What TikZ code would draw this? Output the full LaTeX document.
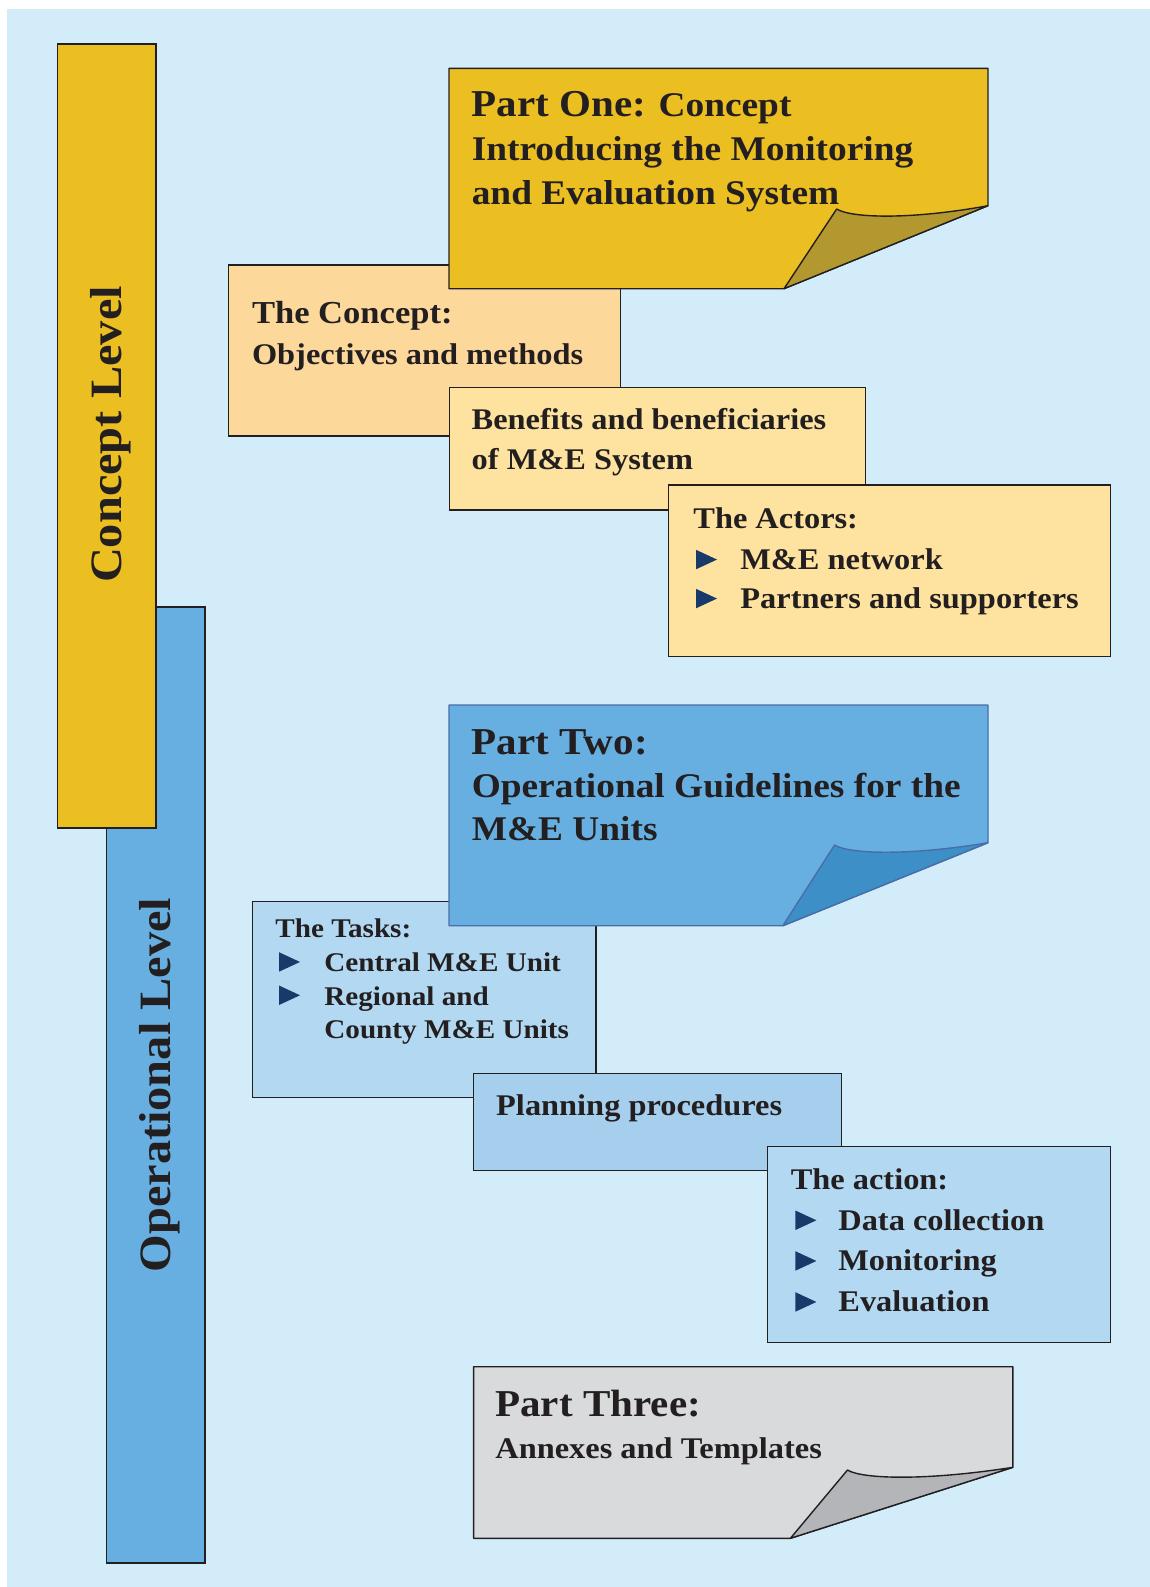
\documentclass[tikz,border=0pt]{standalone}
\usepackage{fontspec}
\setmainfont{Liberation Serif}[FakeStretch=1.08]
\definecolor{bg}{HTML}{D2EDF9}
\definecolor{ink}{HTML}{231F20}
\definecolor{gold}{HTML}{EBBE22}
\definecolor{goldflap}{HTML}{B39830}
\definecolor{conceptfill}{HTML}{FDD89B}
\definecolor{paleorange}{HTML}{FEE3A0}
\definecolor{opblue}{HTML}{68AFE1}
\definecolor{opflap}{HTML}{3D8FC8}
\definecolor{opedge}{HTML}{4A6DA7}
\definecolor{taskfill}{HTML}{B3D9F2}
\definecolor{planfill}{HTML}{A6CFEE}
\definecolor{grayfill}{HTML}{D9DADC}
\definecolor{grayflap}{HTML}{B4B5B9}
\definecolor{navy}{HTML}{173A6A}
\newcommand\meBullet[2]{\fill[navy] (#1,#2) -- ++(0,-19.5) -- ++(21,9.75) -- cycle;}
\begin{document}
\begin{tikzpicture}[x=0.5pt,y=-0.5pt,
  frame/.style={draw=ink, line width=0.7pt, line join=miter},
  flapframe/.style={line width=0.7pt, line join=bevel},
  txt/.style={inner sep=0pt, anchor=base west, text=ink, font=\bfseries\fontsize{15}{18}\selectfont},
  bigtxt/.style={txt, font=\bfseries\fontsize{19}{23}\selectfont},
  subtxt/.style={txt, font=\bfseries\fontsize{17.3}{21}\selectfont},
  headtxt/.style={txt, font=\bfseries\fontsize{16}{19}\selectfont},
  smalltxt/.style={txt, font=\bfseries\fontsize{13.5}{16}\selectfont},
  sidetxt/.style={inner sep=0pt, anchor=base, rotate=90, text=ink, font=\bfseries\fontsize{22.4}{26}\selectfont}]
\useasboundingbox (0,0) rectangle (1150,1587);
\fill[white] (0,0) rectangle (1150,1587);
\fill[bg] (7,9) rectangle (1150,1587);

% level bars
\draw[frame, fill=opblue] (106.5,607) rectangle (205,1563);
\draw[frame, fill=gold] (57.3,44) rectangle (156,828);
\node[sidetxt] (conceptlevel) at (121,434.5) {Concept Level};
\node[sidetxt] (oplevel) at (170.7,1085) {Operational Level};

% ---- Part One group
\draw[frame, fill=conceptfill] (228.4,265) rectangle (620.7,436);
\node[headtxt] (concepthead) at (251.6,323.3) {The Concept:};
\node[txt] (conceptline) at (251.6,364.3) {Objectives and methods};

\draw[flapframe, draw=ink, fill=gold] (449,68.3) -- (988,68.3) -- (988,205.7) -- (784,288.7) -- (449,288.7) -- cycle;
\draw[flapframe, draw=ink, fill=goldflap] (784,288.7) -- (836.7,209) .. controls (851,218) and (910,220) .. (988,205.7) -- cycle;
\node[subtxt] (p1a) at (471.4,116.7) {{\fontsize{19}{23}\selectfont Part One:} Concept};
\node[subtxt] (p1b) at (471.4,160.7) {Introducing the Monitoring};
\node[subtxt] (p1c) at (471.4,204) {and Evaluation System};

\draw[frame, fill=paleorange] (449.4,387.3) rectangle (865.2,510);
\node[txt] (bena) at (471.3,429) {Benefits and beneficiaries};
\node[txt] (benb) at (471.3,469.3) {of M\&E System};

\draw[frame, fill=paleorange] (668.5,485) rectangle (1110.7,656.7);
\node[txt] (actorshead) at (693,528.3) {The Actors:};
\meBullet{696}{569.3}
\node[txt] (actora) at (740,569.3) {M\&E network};
\meBullet{696}{608.3}
\node[txt] (actorb) at (740,608.3) {Partners and supporters};

% ---- Part Two group
\draw[frame, fill=taskfill] (252.7,901.7) rectangle (596,1097.3);
\node[smalltxt] (taskshead) at (275,937.7) {The Tasks:};
\meBullet{279}{971.7}
\node[smalltxt] (taska) at (324,971.7) {Central M\&E Unit};
\meBullet{279}{1005}
\node[smalltxt] (taskb) at (324,1005) {Regional and};
\node[smalltxt] (taskc) at (324,1038.3) {County M\&E Units};

\draw[flapframe, draw=opedge, fill=opblue] (449,705) -- (988,705) -- (988,842.7) -- (782.9,925.7) -- (449,925.7) -- cycle;
\draw[flapframe, draw=opedge, fill=opflap] (782.9,925.7) -- (834.6,845) .. controls (849,854) and (908,856) .. (988,842.7) -- cycle;
\node[bigtxt] (p2a) at (471.4,754) {Part Two:};
\node[subtxt] (p2b) at (471.4,797.3) {Operational Guidelines for the};
\node[subtxt] (p2c) at (471.4,840) {M\&E Units};

\draw[frame, fill=planfill] (473.5,1073.3) rectangle (841.3,1170.7);
\node[txt] (planning) at (495.8,1115) {Planning procedures};

\draw[frame, fill=taskfill] (767.2,1146.7) rectangle (1110.7,1342.7);
\node[txt] (actionhead) at (790.4,1189.3) {The action:};
\meBullet{795.4}{1230}
\node[txt] (actiona) at (838,1230) {Data collection};
\meBullet{795.4}{1270.7}
\node[txt] (actionb) at (838,1270.7) {Monitoring};
\meBullet{795.4}{1311.7}
\node[txt] (actionc) at (838,1311.7) {Evaluation};

% ---- Part Three
\draw[flapframe, draw=ink, fill=grayfill] (473.6,1366.7) -- (1012.9,1366.7) -- (1012.9,1467.3) -- (790.4,1538.3) -- (473.6,1538.3) -- cycle;
\draw[flapframe, draw=ink, fill=grayflap] (790.4,1538.3) -- (847.5,1470) .. controls (862,1479) and (925,1481) .. (1012.9,1467.3) -- cycle;
\node[bigtxt] (p3a) at (495,1416) {Part Three:};
\node[txt] (p3b) at (495,1458.3) {Annexes and Templates};
\end{tikzpicture}
\end{document}
